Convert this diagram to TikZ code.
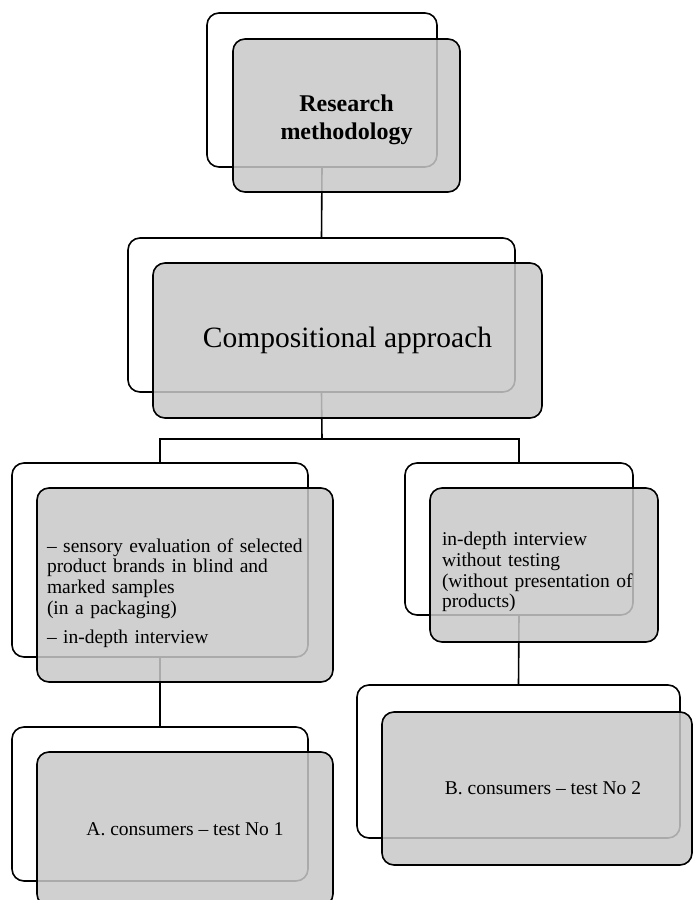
\documentclass[tikz,border=0pt]{standalone}
\usepackage{fontspec}
\setmainfont{Liberation Serif}
\usetikzlibrary{positioning}
\definecolor{boxgray}{RGB}{200,200,200}

\begin{document}
\begin{tikzpicture}[x=1pt, y=-1pt,
    backbox/.style={draw, line width=1.6pt, rounded corners=12pt, anchor=north west,
      inner sep=0pt, outer sep=0pt},
    frontbox/.style={backbox, fill=boxgray, fill opacity=0.85, text opacity=1},
    link/.style={line width=1.6pt},
    small/.style={font=\fontsize{19.5}{20.7}\selectfont}]

  \clip (0,0) rectangle (694,900);

  % back boxes
  \node[backbox, minimum width=230pt, minimum height=154pt] (rmBack) at (207,13) {};
  \node[backbox, minimum width=387pt, minimum height=154pt] (caBack) at (128,238) {};
  \node[backbox, minimum width=296pt, minimum height=194pt] (seBack) at (12,463) {};
  \node[backbox, minimum width=228pt, minimum height=152pt] (inBack) at (405,463) {};
  \node[backbox, minimum width=296pt, minimum height=154pt] (aBack) at (12,727) {};
  \node[backbox, minimum width=323pt, minimum height=153pt] (bBack) at (357,685) {};

  % connectors
  \coordinate (split) at (322,439);
  \draw[link] (rmBack.south) -- (caBack.north);
  \draw[link] (caBack.south) -- (split);
  \draw[link] (seBack.north) |- (split) -| (inBack.north);
  \draw[link] (seBack.south) -- (aBack.north);
  \draw[link] (inBack.south) -- (bBack.north);

  % front boxes
  \node[frontbox, minimum width=227pt, minimum height=153pt, align=center,
    font=\fontsize{24}{27.5}\selectfont\bfseries,
    below right=26pt and 26pt of rmBack.north west] (rmFront) {\rule{0pt}{25pt}Research\\methodology};
  \node[frontbox, minimum width=389pt, minimum height=155pt,
    font=\fontsize{29.5}{34}\selectfont,
    below right=25pt and 25pt of caBack.north west] (caFront) {Compositional approach};
  \node[frontbox, small, minimum width=296pt, minimum height=194pt, text width=276pt, align=left,
    below right=25pt and 25pt of seBack.north west] (seFront)
    {\rule{0pt}{30pt}– sensory evaluation of selected\\product brands in blind and\\marked samples\\(in a packaging)\\[9pt]– in-depth interview};
  \node[frontbox, small, minimum width=228pt, minimum height=154pt, text width=204pt, align=left,
    below right=25pt and 25pt of inBack.north west] (inFront)
    {\rule{0pt}{28pt}in-depth interview\\without testing\\(without presentation of\\products)};
  \node[frontbox, small, minimum width=296pt, minimum height=154pt,
    below right=25pt and 25pt of aBack.north west] (aFront) {A. consumers – test No 1};
  \node[frontbox, small, minimum width=310pt, minimum height=153pt,
    below right=27pt and 25pt of bBack.north west] (bFront) {\hspace*{12pt}B. consumers – test No 2};

\end{tikzpicture}
\end{document}
